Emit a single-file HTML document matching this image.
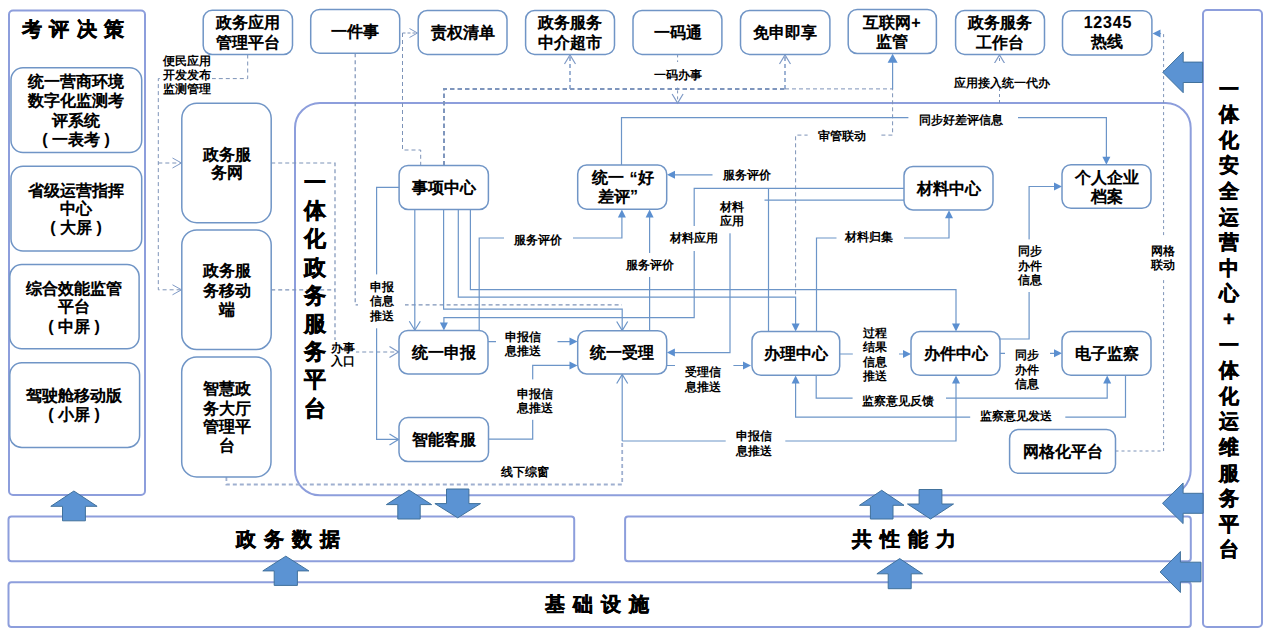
<!DOCTYPE html>
<html><head><meta charset="utf-8"><style>
*{text-spacing-trim:space-all;}
html,body{margin:0;padding:0;background:#fff;}
body{width:1269px;height:638px;overflow:hidden;}
svg{display:block;}
.t{stroke:rgba(0,0,0,0.35);stroke-width:0.3px;text-spacing-trim:space-all;font-family:"Liberation Sans",sans-serif;font-weight:bold;fill:#000;text-anchor:middle;dominant-baseline:central;}
</style></head><body>
<svg width="1269" height="638" viewBox="0 0 1269 638">
<rect x="0" y="0" width="1269" height="638" fill="#fff"/>
<rect x="9" y="10.5" width="136.0" height="484.5" rx="4" ry="4" fill="#fff" stroke="#8d9edc" stroke-width="2"/>
<rect x="1203" y="10" width="59.0" height="617.0" rx="4" ry="4" fill="#fff" stroke="#8d9edc" stroke-width="2"/>
<rect x="295" y="103" width="895.7" height="392.3" rx="25" ry="25" fill="#fff" stroke="#8d9edc" stroke-width="2"/>
<rect x="8.5" y="516.5" width="565.7" height="44.8" rx="3" ry="3" fill="#fff" stroke="#8d9edc" stroke-width="2"/>
<rect x="625.1" y="516.5" width="565.7" height="44.8" rx="3" ry="3" fill="#fff" stroke="#8d9edc" stroke-width="2"/>
<rect x="8.5" y="582.2" width="1182.3" height="44.8" rx="3" ry="3" fill="#fff" stroke="#8d9edc" stroke-width="2"/>
<path d="M247.7,54.5 L247.7,78.6 L158.3,78.6 L158.3,289.8 L181,289.8" fill="none" stroke="#7d93b8" stroke-width="1" stroke-dasharray="4 3"/>
<path d="M158.3,163 L181,163" fill="none" stroke="#7d93b8" stroke-width="1" stroke-dasharray="4 3"/>
<path d="M172.5,158 L181.5,163 L172.5,168" fill="none" stroke="#7f9ac6" stroke-width="1"/>
<path d="M172.5,284.8 L181.5,289.8 L172.5,294.8" fill="none" stroke="#7f9ac6" stroke-width="1"/>
<rect x="162" y="54" width="50.0" height="42.0" fill="#fff"/>
<text class="t" x="187" y="61" style="font-size:12px;stroke:none">便民应用</text>
<text class="t" x="187" y="75" style="font-size:12px;stroke:none">开发发布</text>
<text class="t" x="187" y="89" style="font-size:12px;stroke:none">监测管理</text>
<path d="M271.2,163 L335,163 L335,352 L398,352" fill="none" stroke="#7d93b8" stroke-width="1.2" stroke-dasharray="4 3"/>
<path d="M271.2,289.8 L335,289.8" fill="none" stroke="#7d93b8" stroke-width="1.2" stroke-dasharray="4 3"/>
<path d="M389.5,346.5 L398.5,352 L389.5,357.5" fill="none" stroke="#7f9ac6" stroke-width="1.2"/>
<path d="M355.2,53.3 L355.2,304.9 L622,304.9" fill="none" stroke="#7d93b8" stroke-width="1.2" stroke-dasharray="4 3"/>
<path d="M402.5,33 L417,33" fill="none" stroke="#7d93b8" stroke-width="1" stroke-dasharray="3 2"/>
<path d="M409.5,28.5 L417.5,33 L409.5,37.5" fill="none" stroke="#7f9ac6" stroke-width="1"/>
<path d="M402.5,33 L402.5,150 L420.7,150 L420.7,165.4" fill="none" stroke="#7d93b8" stroke-width="1" stroke-dasharray="4 3"/>
<path d="M444,165.4 L444,88.9 L785,88.9" fill="none" stroke="#7f96bd" stroke-width="2" stroke-dasharray="4.5 3"/>
<path d="M570,88.9 L570,55" fill="none" stroke="#7f9ac6" stroke-width="1.5" stroke-dasharray="4 3"/>
<path d="M564.5,64 L570,55 L575.5,64" fill="none" stroke="#7f9ac6" stroke-width="1.2"/>
<path d="M785,88.9 L785,55" fill="none" stroke="#7f9ac6" stroke-width="1.5" stroke-dasharray="4 3"/>
<path d="M779.5,64 L785,55 L790.5,64" fill="none" stroke="#7f9ac6" stroke-width="1.2"/>
<path d="M785,88.9 L892.6,88.9 L892.6,135.1 L795.6,135.1 L795.6,297.2" fill="none" stroke="#7d93b8" stroke-width="1" stroke-dasharray="4 3"/>
<path d="M892.6,88.9 L892.6,60" fill="none" stroke="#6c95c8" stroke-width="1.2"/>
<polygon points="892.6,53.8 887.6,62.8 897.6,62.8" fill="#5b8fd0" stroke="none" stroke-width="0"/>
<path d="M677.6,54.4 L677.6,103" fill="none" stroke="#7d93b8" stroke-width="1" stroke-dasharray="3 3"/>
<path d="M672.1,94 L677.6,103 L683.1,94" fill="none" stroke="#7f9ac6" stroke-width="1.2"/>
<rect x="650" y="62" width="56.0" height="25.0" fill="#fff"/>
<text class="t" x="678" y="74.7" style="font-size:12px;stroke:none">一码办事</text>
<path d="M999.5,103 L999.5,55" fill="none" stroke="#7d93b8" stroke-width="1" stroke-dasharray="3 3"/>
<path d="M994.0,64 L999.5,55 L1005.0,64" fill="none" stroke="#7f9ac6" stroke-width="1.2"/>
<rect x="952" y="63" width="100.0" height="25.0" fill="#fff"/>
<text class="t" x="1002.2" y="82.5" style="font-size:12px;stroke:none">应用接入统一代办</text>
<path d="M1115.5,451 L1163.6,451 L1163.6,33.6 L1158,33.6" fill="none" stroke="#7d93b8" stroke-width="1" stroke-dasharray="3 3"/>
<polygon points="1152.5,33.6 1160.5,29.6 1160.5,37.6" fill="#5b8fd0" stroke="none" stroke-width="0"/>
<rect x="1150" y="238" width="26.0" height="39.6" fill="#fff"/>
<text class="t" x="1163" y="250.5" style="font-size:12px;stroke:none">网格</text>
<text class="t" x="1163" y="264.6" style="font-size:12px;stroke:none">联动</text>
<path d="M226.4,476.9 L226.4,484.5 L622.2,484.5 L622.2,441" fill="none" stroke="#9fb0d0" stroke-width="1.8" stroke-dasharray="4 3"/>
<text class="t" x="524.8" y="472.1" style="font-size:12px;stroke:none">线下综窗</text>
<path d="M399,187.3 L376.6,187.3 L376.6,439.4 L398,439.4" fill="none" stroke="#6c95c8" stroke-width="1.2"/>
<path d="M389.5,433.9 L398.5,439.4 L389.5,444.9" fill="none" stroke="#6c95c8" stroke-width="1.2"/>
<path d="M414.8,209.5 L414.8,330" fill="none" stroke="#6c95c8" stroke-width="1.2"/>
<path d="M409.3,321.2 L414.8,330.2 L420.3,321.2" fill="none" stroke="#6c95c8" stroke-width="1.2"/>
<path d="M443.6,209.5 L443.6,309.2 L622.2,309.2 L622.2,330" fill="none" stroke="#6c95c8" stroke-width="1.2"/>
<path d="M616.7,321.5 L622.2,330.5 L627.7,321.5" fill="none" stroke="#6c95c8" stroke-width="1.2"/>
<path d="M458.3,209.5 L458.3,297.2 L795.6,297.2 L795.6,325" fill="none" stroke="#6c95c8" stroke-width="1.2"/>
<polygon points="795.6,331.5 791.6,323.5 799.6,323.5" fill="#5b8fd0" stroke="none" stroke-width="0"/>
<path d="M470.4,209.5 L470.4,289.6 L956,289.6 L956,325" fill="none" stroke="#6c95c8" stroke-width="1.2"/>
<polygon points="956.0,331.5 952.0,323.5 960.0,323.5" fill="#5b8fd0" stroke="none" stroke-width="0"/>
<rect x="358" y="274.4" width="47.0" height="53.9" fill="#fff"/>
<text class="t" x="382.3" y="287" style="font-size:12px;stroke:none">申报</text>
<text class="t" x="382.3" y="301.4" style="font-size:12px;stroke:none">信息</text>
<text class="t" x="382.3" y="315.8" style="font-size:12px;stroke:none">推送</text>
<path d="M479.2,330.4 L479.2,238 L621.9,238 L621.9,215" fill="none" stroke="#6c95c8" stroke-width="1.2"/>
<polygon points="621.9,209.5 617.9,217.5 625.9,217.5" fill="#5b8fd0" stroke="none" stroke-width="0"/>
<rect x="504" y="228" width="69.0" height="22.0" fill="#fff"/>
<text class="t" x="538" y="239.7" style="font-size:12px;stroke:none">服务评价</text>
<path d="M649.6,330.7 L649.6,215" fill="none" stroke="#6c95c8" stroke-width="1.2"/>
<polygon points="649.6,209.5 645.6,217.5 653.6,217.5" fill="#5b8fd0" stroke="none" stroke-width="0"/>
<rect x="624" y="253" width="51.0" height="24.0" fill="#fff"/>
<text class="t" x="649.7" y="264.6" style="font-size:12px;stroke:none">服务评价</text>
<path d="M904,188.4 L694.2,188.4 L694.2,317.7 L443.9,317.7 L443.9,324" fill="none" stroke="#6c95c8" stroke-width="1.2"/>
<polygon points="443.9,330.4 439.9,322.4 447.9,322.4" fill="#5b8fd0" stroke="none" stroke-width="0"/>
<rect x="668" y="226" width="51.0" height="25.0" fill="#fff"/>
<text class="t" x="693.5" y="238.1" style="font-size:12px;stroke:none">材料应用</text>
<path d="M904,200.2 L730,200.2 L730,352.6 L672,352.6" fill="none" stroke="#6c95c8" stroke-width="1.2"/>
<polygon points="666.9,352.6 674.9,348.6 674.9,356.6" fill="#5b8fd0" stroke="none" stroke-width="0"/>
<rect x="715" y="192" width="49.5" height="41.3" fill="#fff"/>
<text class="t" x="732" y="206.6" style="font-size:12px;stroke:none">材料</text>
<text class="t" x="732" y="220.5" style="font-size:12px;stroke:none">应用</text>
<path d="M768.5,188.4 L768.5,331.5" fill="none" stroke="#6c95c8" stroke-width="1.2"/>
<path d="M712.5,174.8 L672,174.8" fill="none" stroke="#6c95c8" stroke-width="1.2"/>
<polygon points="667.0,174.8 675.0,170.8 675.0,178.8" fill="#5b8fd0" stroke="none" stroke-width="0"/>
<text class="t" x="746.5" y="174.7" style="font-size:12px;stroke:none">服务评价</text>
<path d="M816.5,331.5 L816.5,238 L949,238 L949,216" fill="none" stroke="#6c95c8" stroke-width="1.2"/>
<polygon points="949.0,210.2 945.0,218.2 953.0,218.2" fill="#5b8fd0" stroke="none" stroke-width="0"/>
<rect x="836.5" y="228" width="67.5" height="20.0" fill="#fff"/>
<text class="t" x="869" y="237.4" style="font-size:12px;stroke:none">材料归集</text>
<path d="M621.5,165 L621.5,117.7 L1106.4,117.7 L1106.4,158" fill="none" stroke="#6c95c8" stroke-width="1.2"/>
<polygon points="1106.4,164.7 1102.4,156.7 1110.4,156.7" fill="#5b8fd0" stroke="none" stroke-width="0"/>
<rect x="908.4" y="110" width="109.6" height="19.0" fill="#fff"/>
<text class="t" x="961" y="119.6" style="font-size:12px;stroke:none">同步好差评信息</text>
<rect x="807.6" y="126" width="71.4" height="19.0" fill="#fff"/>
<text class="t" x="842" y="135.6" style="font-size:12px;stroke:none">审管联动</text>
<path d="M488,341.6 L572,341.6" fill="none" stroke="#6c95c8" stroke-width="1.2"/>
<polygon points="577.5,341.6 569.5,337.6 569.5,345.6" fill="#5b8fd0" stroke="none" stroke-width="0"/>
<rect x="496" y="328" width="61.5" height="32.0" fill="#fff"/>
<text class="t" x="523" y="337.2" style="font-size:12px;stroke:none">申报信</text>
<text class="t" x="523" y="350.5" style="font-size:12px;stroke:none">息推送</text>
<path d="M488.5,439.2 L532.7,439.2 L532.7,365.4 L572,365.4" fill="none" stroke="#6c95c8" stroke-width="1.2"/>
<polygon points="577.5,365.4 569.5,361.4 569.5,369.4" fill="#5b8fd0" stroke="none" stroke-width="0"/>
<rect x="512" y="379.4" width="45.0" height="40.4" fill="#fff"/>
<text class="t" x="534.8" y="394.1" style="font-size:12px;stroke:none">申报信</text>
<text class="t" x="534.8" y="407.6" style="font-size:12px;stroke:none">息推送</text>
<path d="M666.7,365.5 L745,365.5" fill="none" stroke="#6c95c8" stroke-width="1.2"/>
<polygon points="751.0,365.5 743.0,361.5 743.0,369.5" fill="#5b8fd0" stroke="none" stroke-width="0"/>
<rect x="675" y="358" width="58.4" height="39.0" fill="#fff"/>
<text class="t" x="703.2" y="371.6" style="font-size:12px;stroke:none">受理信</text>
<text class="t" x="703.2" y="386.8" style="font-size:12px;stroke:none">息推送</text>
<path d="M839.7,354 L905,354" fill="none" stroke="#6c95c8" stroke-width="1.2"/>
<polygon points="911.0,354.0 903.0,350.0 903.0,358.0" fill="#5b8fd0" stroke="none" stroke-width="0"/>
<rect x="852.8" y="324" width="46.2" height="61.0" fill="#fff"/>
<text class="t" x="874.7" y="332.7" style="font-size:12px;stroke:none">过程</text>
<text class="t" x="874.7" y="347.3" style="font-size:12px;stroke:none">结果</text>
<text class="t" x="874.7" y="361.6" style="font-size:12px;stroke:none">信息</text>
<text class="t" x="874.7" y="376.1" style="font-size:12px;stroke:none">推送</text>
<path d="M1000,339 L1029.1,339 L1029.1,186.5 L1056,186.5" fill="none" stroke="#6c95c8" stroke-width="1.2"/>
<polygon points="1062.0,186.5 1054.0,182.5 1054.0,190.5" fill="#5b8fd0" stroke="none" stroke-width="0"/>
<rect x="1014" y="239.4" width="32.0" height="52.6" fill="#fff"/>
<text class="t" x="1029.9" y="251.3" style="font-size:12px;stroke:none">同步</text>
<text class="t" x="1029.9" y="265.7" style="font-size:12px;stroke:none">办件</text>
<text class="t" x="1029.9" y="279.5" style="font-size:12px;stroke:none">信息</text>
<path d="M1000,353.3 L1056,353.3" fill="none" stroke="#6c95c8" stroke-width="1.2"/>
<polygon points="1062.0,353.3 1054.0,349.3 1054.0,357.3" fill="#5b8fd0" stroke="none" stroke-width="0"/>
<rect x="1005" y="346" width="45.0" height="46.0" fill="#fff"/>
<text class="t" x="1026.5" y="355.2" style="font-size:12px;stroke:none">同步</text>
<text class="t" x="1026.5" y="370" style="font-size:12px;stroke:none">办件</text>
<text class="t" x="1026.5" y="384.3" style="font-size:12px;stroke:none">信息</text>
<path d="M816.2,375.3 L816.2,398.2 L1107.2,398.2 L1107.2,381" fill="none" stroke="#6c95c8" stroke-width="1.2"/>
<polygon points="1107.2,375.5 1103.2,383.5 1111.2,383.5" fill="#5b8fd0" stroke="none" stroke-width="0"/>
<rect x="852.6" y="390" width="93.4" height="20.0" fill="#fff"/>
<text class="t" x="898" y="400.5" style="font-size:12px;stroke:none">监察意见反馈</text>
<path d="M1125.5,375.3 L1125.5,417.2 L795.6,417.2 L795.6,381" fill="none" stroke="#6c95c8" stroke-width="1.2"/>
<polygon points="795.6,375.5 791.6,383.5 799.6,383.5" fill="#5b8fd0" stroke="none" stroke-width="0"/>
<rect x="970.2" y="407" width="95.1" height="19.0" fill="#fff"/>
<text class="t" x="1016.2" y="415.7" style="font-size:12px;stroke:none">监察意见发送</text>
<path d="M622.2,441 L956,441 L956,381" fill="none" stroke="#6c95c8" stroke-width="1.2"/>
<path d="M622.2,441 L622.2,375" fill="none" stroke="#6c95c8" stroke-width="1.2"/>
<path d="M616.7,383.5 L622.2,374.5 L627.7,383.5" fill="none" stroke="#6c95c8" stroke-width="1.2"/>
<polygon points="956.0,375.5 952.0,383.5 960.0,383.5" fill="#5b8fd0" stroke="none" stroke-width="0"/>
<rect x="725.7" y="426" width="59.6" height="34.0" fill="#fff"/>
<text class="t" x="754" y="435.9" style="font-size:12px;stroke:none">申报信</text>
<text class="t" x="754" y="450.9" style="font-size:12px;stroke:none">息推送</text>
<rect x="330" y="340" width="26.0" height="30.0" fill="#fff"/>
<text class="t" x="343.2" y="347.5" style="font-size:12px;stroke:none">办事</text>
<text class="t" x="343.2" y="361.3" style="font-size:12px;stroke:none">入口</text>
<text class="t" x="76.8" y="29" style="font-size:20px;stroke:#000;stroke-width:0.5px;letter-spacing:7.6px">考评决策</text>
<text class="t" x="291.5" y="539" style="font-size:20px;stroke:#000;stroke-width:0.5px;letter-spacing:8px">政务数据</text>
<text class="t" x="908.0" y="539" style="font-size:20px;stroke:#000;stroke-width:0.5px;letter-spacing:8px">共性能力</text>
<text class="t" x="600.5" y="604" style="font-size:20px;stroke:#000;stroke-width:0.5px;letter-spacing:8px">基础设施</text>
<text class="t" x="314.6" y="182.5" style="font-size:22px;stroke:#000;stroke-width:0.5px">一</text>
<text class="t" x="314.6" y="210.7" style="font-size:22px;stroke:#000;stroke-width:0.5px">体</text>
<text class="t" x="314.6" y="238.9" style="font-size:22px;stroke:#000;stroke-width:0.5px">化</text>
<text class="t" x="314.6" y="267.1" style="font-size:22px;stroke:#000;stroke-width:0.5px">政</text>
<text class="t" x="314.6" y="295.3" style="font-size:22px;stroke:#000;stroke-width:0.5px">务</text>
<text class="t" x="314.6" y="323.5" style="font-size:22px;stroke:#000;stroke-width:0.5px">服</text>
<text class="t" x="314.6" y="351.7" style="font-size:22px;stroke:#000;stroke-width:0.5px">务</text>
<text class="t" x="314.6" y="379.9" style="font-size:22px;stroke:#000;stroke-width:0.5px">平</text>
<text class="t" x="314.6" y="408.1" style="font-size:22px;stroke:#000;stroke-width:0.5px">台</text>
<text class="t" x="1228.8" y="88.5" style="font-size:20px;stroke:#000;stroke-width:0.5px">一</text>
<text class="t" x="1228.8" y="114.1" style="font-size:20px;stroke:#000;stroke-width:0.5px">体</text>
<text class="t" x="1228.8" y="139.7" style="font-size:20px;stroke:#000;stroke-width:0.5px">化</text>
<text class="t" x="1228.8" y="165.3" style="font-size:20px;stroke:#000;stroke-width:0.5px">安</text>
<text class="t" x="1228.8" y="190.9" style="font-size:20px;stroke:#000;stroke-width:0.5px">全</text>
<text class="t" x="1228.8" y="216.5" style="font-size:20px;stroke:#000;stroke-width:0.5px">运</text>
<text class="t" x="1228.8" y="242.10000000000002" style="font-size:20px;stroke:#000;stroke-width:0.5px">营</text>
<text class="t" x="1228.8" y="267.70000000000005" style="font-size:20px;stroke:#000;stroke-width:0.5px">中</text>
<text class="t" x="1228.8" y="293.3" style="font-size:20px;stroke:#000;stroke-width:0.5px">心</text>
<text class="t" x="1228.8" y="318.9" style="font-size:20px;stroke:#000;stroke-width:0.5px">+</text>
<text class="t" x="1228.8" y="344.5" style="font-size:20px;stroke:#000;stroke-width:0.5px">一</text>
<text class="t" x="1228.8" y="370.1" style="font-size:20px;stroke:#000;stroke-width:0.5px">体</text>
<text class="t" x="1228.8" y="395.70000000000005" style="font-size:20px;stroke:#000;stroke-width:0.5px">化</text>
<text class="t" x="1228.8" y="421.3" style="font-size:20px;stroke:#000;stroke-width:0.5px">运</text>
<text class="t" x="1228.8" y="446.90000000000003" style="font-size:20px;stroke:#000;stroke-width:0.5px">维</text>
<text class="t" x="1228.8" y="472.5" style="font-size:20px;stroke:#000;stroke-width:0.5px">服</text>
<text class="t" x="1228.8" y="498.1" style="font-size:20px;stroke:#000;stroke-width:0.5px">务</text>
<text class="t" x="1228.8" y="523.7" style="font-size:20px;stroke:#000;stroke-width:0.5px">平</text>
<text class="t" x="1228.8" y="549.3" style="font-size:20px;stroke:#000;stroke-width:0.5px">台</text>
<rect x="11" y="67.7" width="130.7" height="84.8" rx="12" ry="12" fill="#fff" stroke="#7095c6" stroke-width="1.5"/>
<text class="t" x="76" y="81.5" style="font-size:16px">统一营商环境</text>
<text class="t" x="76" y="100.3" style="font-size:16px">数字化监测考</text>
<text class="t" x="76" y="120.4" style="font-size:16px">评系统</text>
<text class="t" x="76" y="139" style="font-size:16px">( 一表考 )</text>
<rect x="11" y="166.3" width="130.7" height="84.7" rx="12" ry="12" fill="#fff" stroke="#7095c6" stroke-width="1.5"/>
<text class="t" x="76" y="190" style="font-size:16px">省级运营指挥</text>
<text class="t" x="76" y="208.5" style="font-size:16px">中心</text>
<text class="t" x="76" y="227.7" style="font-size:16px">( 大屏 )</text>
<rect x="9.8" y="264.6" width="129.3" height="84.1" rx="12" ry="12" fill="#fff" stroke="#7095c6" stroke-width="1.5"/>
<text class="t" x="74" y="288.5" style="font-size:16px">综合效能监管</text>
<text class="t" x="74" y="306.4" style="font-size:16px">平台</text>
<text class="t" x="74" y="326" style="font-size:16px">( 中屏 )</text>
<rect x="9.8" y="362.7" width="129.8" height="84.7" rx="12" ry="12" fill="#fff" stroke="#7095c6" stroke-width="1.5"/>
<text class="t" x="74" y="395.6" style="font-size:16px">驾驶舱移动版</text>
<text class="t" x="74" y="414.4" style="font-size:16px">( 小屏 )</text>
<rect x="181.8" y="103.3" width="89.4" height="119.4" rx="15" ry="15" fill="#fff" stroke="#7095c6" stroke-width="1.5"/>
<text class="t" x="226.5" y="154.3" style="font-size:16px">政务服</text>
<text class="t" x="226.5" y="172.9" style="font-size:16px">务网</text>
<rect x="181.8" y="229.9" width="89.4" height="119.6" rx="15" ry="15" fill="#fff" stroke="#7095c6" stroke-width="1.5"/>
<text class="t" x="226.5" y="270.9" style="font-size:16px">政务服</text>
<text class="t" x="226.5" y="290.2" style="font-size:16px">务移动</text>
<text class="t" x="226.5" y="309.6" style="font-size:16px">端</text>
<rect x="181.7" y="357" width="89.3" height="119.9" rx="15" ry="15" fill="#fff" stroke="#7095c6" stroke-width="1.5"/>
<text class="t" x="226.5" y="388.8" style="font-size:16px">智慧政</text>
<text class="t" x="226.5" y="408.3" style="font-size:16px">务大厅</text>
<text class="t" x="226.5" y="426.4" style="font-size:16px">管理平</text>
<text class="t" x="226.5" y="445.9" style="font-size:16px">台</text>
<rect x="203.2" y="10.3" width="89.3" height="44.2" rx="9" ry="9" fill="#fff" stroke="#7095c6" stroke-width="1.5"/>
<text class="t" x="248" y="22.6" style="font-size:16px">政务应用</text>
<text class="t" x="248" y="42.3" style="font-size:16px">管理平台</text>
<rect x="310.7" y="9.4" width="89.0" height="43.9" rx="9" ry="9" fill="#fff" stroke="#7095c6" stroke-width="1.5"/>
<text class="t" x="355" y="31.4" style="font-size:16px">一件事</text>
<rect x="418.2" y="10.5" width="88.8" height="43.9" rx="9" ry="9" fill="#fff" stroke="#7095c6" stroke-width="1.5"/>
<text class="t" x="462.8" y="32.3" style="font-size:16px">责权清单</text>
<rect x="525.6" y="10.5" width="88.9" height="43.9" rx="9" ry="9" fill="#fff" stroke="#7095c6" stroke-width="1.5"/>
<text class="t" x="570" y="22.7" style="font-size:16px">政务服务</text>
<text class="t" x="570" y="42.6" style="font-size:16px">中介超市</text>
<rect x="633" y="10.5" width="88.9" height="43.9" rx="9" ry="9" fill="#fff" stroke="#7095c6" stroke-width="1.5"/>
<text class="t" x="678" y="32.6" style="font-size:16px">一码通</text>
<rect x="740.5" y="10.5" width="89.4" height="43.9" rx="9" ry="9" fill="#fff" stroke="#7095c6" stroke-width="1.5"/>
<text class="t" x="785" y="32.6" style="font-size:16px">免申即享</text>
<rect x="848.2" y="9.4" width="88.2" height="44.1" rx="9" ry="9" fill="#fff" stroke="#7095c6" stroke-width="1.5"/>
<text class="t" x="892" y="22.7" style="font-size:16px">互联网+</text>
<text class="t" x="892" y="41.7" style="font-size:16px">监管</text>
<rect x="955.6" y="10.5" width="88.9" height="43.9" rx="9" ry="9" fill="#fff" stroke="#7095c6" stroke-width="1.5"/>
<text class="t" x="1000" y="22.7" style="font-size:16px">政务服务</text>
<text class="t" x="1000" y="42.6" style="font-size:16px">工作台</text>
<rect x="1062.5" y="10.7" width="89.4" height="44.2" rx="9" ry="9" fill="#fff" stroke="#7095c6" stroke-width="1.5"/>
<text class="t" x="1107.9" y="22" style="font-size:16px;letter-spacing:0.8px">12345</text>
<text class="t" x="1107" y="41.1" style="font-size:16px">热线</text>
<rect x="399.1" y="165.4" width="89.3" height="44.1" rx="9" ry="9" fill="#fff" stroke="#7095c6" stroke-width="1.5"/>
<text class="t" x="444" y="187.3" style="font-size:16px">事项中心</text>
<rect x="577.7" y="165" width="89.0" height="44.2" rx="9" ry="9" fill="#fff" stroke="#7095c6" stroke-width="1.5"/>
<text class="t" x="622.5" y="177.7" style="font-size:16px">统一<tspan dx="6">“</tspan>好</text>
<text class="t" x="618" y="196.5" style="font-size:16px">差评”</text>
<rect x="904" y="166.5" width="89.0" height="43.5" rx="9" ry="9" fill="#fff" stroke="#7095c6" stroke-width="1.5"/>
<text class="t" x="948.5" y="188.2" style="font-size:16px">材料中心</text>
<rect x="1062" y="164.7" width="89.0" height="43.6" rx="9" ry="9" fill="#fff" stroke="#7095c6" stroke-width="1.5"/>
<text class="t" x="1106.5" y="177.7" style="font-size:16px">个人企业</text>
<text class="t" x="1106.5" y="196.5" style="font-size:16px">档案</text>
<rect x="399" y="330.4" width="89.0" height="43.6" rx="9" ry="9" fill="#fff" stroke="#7095c6" stroke-width="1.5"/>
<text class="t" x="443.5" y="352" style="font-size:16px">统一申报</text>
<rect x="577.7" y="330.7" width="89.0" height="43.3" rx="9" ry="9" fill="#fff" stroke="#7095c6" stroke-width="1.5"/>
<text class="t" x="622" y="352" style="font-size:16px">统一受理</text>
<rect x="752" y="331.5" width="87.7" height="43.8" rx="9" ry="9" fill="#fff" stroke="#7095c6" stroke-width="1.5"/>
<text class="t" x="796" y="353.3" style="font-size:16px">办理中心</text>
<rect x="911" y="331.5" width="89.0" height="43.8" rx="9" ry="9" fill="#fff" stroke="#7095c6" stroke-width="1.5"/>
<text class="t" x="955.5" y="353.3" style="font-size:16px">办件中心</text>
<rect x="1062" y="331.5" width="89.0" height="43.8" rx="9" ry="9" fill="#fff" stroke="#7095c6" stroke-width="1.5"/>
<text class="t" x="1106.5" y="353.3" style="font-size:16px">电子监察</text>
<rect x="399" y="417.6" width="89.5" height="43.9" rx="9" ry="9" fill="#fff" stroke="#7095c6" stroke-width="1.5"/>
<text class="t" x="443.7" y="439.4" style="font-size:16px">智能客服</text>
<rect x="1009.6" y="429.4" width="105.9" height="43.9" rx="9" ry="9" fill="#fff" stroke="#7095c6" stroke-width="1.5"/>
<text class="t" x="1062.5" y="451" style="font-size:16px">网格化平台</text>
<polygon points="73.9,491.0 97.1,506.3 85.4,506.3 85.4,520.8 62.5,520.8 62.5,506.3 50.8,506.3" fill="#5b93d3" stroke="#41719c" stroke-width="1"/>
<polygon points="285.8,556.2 308.9,570.9 297.4,570.9 297.4,585.4 274.2,585.4 274.2,570.9 262.8,570.9" fill="#5b93d3" stroke="#41719c" stroke-width="1"/>
<polygon points="409.0,490.0 431.6,504.6 420.2,504.6 420.2,519.0 397.8,519.0 397.8,504.6 386.4,504.6" fill="#5b93d3" stroke="#41719c" stroke-width="1"/>
<polygon points="457.7,517.8 480.5,503.6 468.9,503.6 468.9,489.0 446.5,489.0 446.5,503.6 434.9,503.6" fill="#5b93d3" stroke="#41719c" stroke-width="1"/>
<polygon points="881.7,490.3 904.0,505.3 893.0,505.3 893.0,519.0 870.4,519.0 870.4,505.3 859.5,505.3" fill="#5b93d3" stroke="#41719c" stroke-width="1"/>
<polygon points="930.5,519.0 953.5,504.0 941.9,504.0 941.9,489.5 919.1,489.5 919.1,504.0 907.5,504.0" fill="#5b93d3" stroke="#41719c" stroke-width="1"/>
<polygon points="899.7,558.6 922.5,573.8 911.2,573.8 911.2,588.7 888.2,588.7 888.2,573.8 876.9,573.8" fill="#5b93d3" stroke="#41719c" stroke-width="1"/>
<polygon points="1162.8,72.3 1183.2,51.9 1183.2,62.1 1202.6,62.1 1202.6,82.5 1183.2,82.5 1183.2,92.7" fill="#5b93d3" stroke="#41719c" stroke-width="1"/>
<polygon points="1162.5,503.3 1183.1,483.0 1183.1,493.3 1203.1,493.3 1203.1,513.3 1183.1,513.3 1183.1,523.6" fill="#5b93d3" stroke="#41719c" stroke-width="1"/>
<polygon points="1160.1,572.0 1180.4,551.5 1180.4,562.2 1201.0,562.2 1201.0,581.8 1180.4,581.8 1180.4,592.5" fill="#5b93d3" stroke="#41719c" stroke-width="1"/>
</svg>
</body></html>
